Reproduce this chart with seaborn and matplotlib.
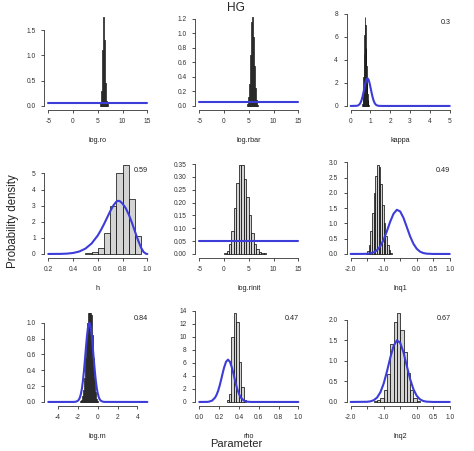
import numpy as np
import pandas as pd
import matplotlib
matplotlib.use("Agg")
import matplotlib.pyplot as plt
import seaborn as sns

# ---------------- data ----------------
params = ["log.ro", "log.rbar", "kappa", "h", "log.rinit", "lnq1", "log.m", "rho", "lnq2"]
annotations = ["", "", "0.3", "0.59", "", "0.49", "0.84", "0.47", "0.67"]

# posterior histograms: first bin edge, bin width, densities
ro_start, ro_width = 5.4, 0.2
ro_dens = [0.05, 0.3, 1.1, 1.75, 1.3, 0.45, 0.1, 0.03]
rbar_start, rbar_width = 4.6, 0.2
rbar_dens = [0.03, 0.12, 0.3, 0.7, 1.15, 1.22, 0.95, 0.55, 0.25, 0.08, 0.02]
kappa_start, kappa_width = 0.575, 0.025
kappa_dens = [0.2, 0.8, 2.5, 4.5, 6.2, 7.7, 7.0, 5.0, 3.5, 2.0, 1.0, 0.5, 0.2, 0.08]
h_start, h_width = 0.5, 0.05
h_dens = [0.03, 0.1, 0.35, 1.3, 3.0, 5.0, 5.5, 3.4, 1.1]
rinit_start, rinit_width = 0.0, 0.5
rinit_dens = [0.003, 0.01, 0.04, 0.09, 0.18, 0.275, 0.345, 0.345, 0.29, 0.22, 0.15,
              0.08, 0.04, 0.02, 0.008, 0.004, 0.002]
lnq1_start, lnq1_width = -1.55, 0.05
lnq1_dens = [0.03, 0.1, 0.3, 0.75, 1.35, 2.0, 2.55, 2.9, 2.85, 2.3, 1.6, 1.0, 0.6, 0.3, 0.12, 0.04]
logm_start, logm_width = -1.8, 0.1
logm_dens = [0.01, 0.03, 0.07, 0.15, 0.3, 0.55, 0.8, 1.0, 1.12, 1.12, 1.12, 1.1, 0.85,
             0.55, 0.3, 0.12, 0.04, 0.01]
rho_start, rho_width = 0.275, 0.025
rho_dens = [0.3, 1.2, 9.9, 13.6, 12.3, 6.2, 2.3, 0.3]
lnq2_start, lnq2_width = -1.3, 0.1
lnq2_dens = [0.02, 0.05, 0.1, 0.3, 0.68, 1.4, 1.95, 2.15, 1.75, 1.2, 0.7, 0.3, 0.1, 0.03]

# prior density curves
ro_px, ro_py = [-5, 15], [0.05, 0.05]
rbar_px, rbar_py = [-5, 15], [0.05, 0.05]
rinit_px, rinit_py = [-5, 15], [0.05, 0.05]
kappa_px = [0, 0.3, 0.35, 0.4, 0.45, 0.5, 0.55, 0.6, 0.65, 0.7, 0.75, 0.8, 0.85, 0.9, 0.95,
            1.0, 1.05, 1.1, 1.15, 1.2, 1.25, 1.3, 1.4, 1.6, 5.0]
kappa_py = [0, 0.013, 0.032, 0.073, 0.151, 0.288, 0.506, 0.815, 1.20, 1.62, 2.02, 2.30, 2.40,
            2.30, 2.02, 1.62, 1.20, 0.815, 0.506, 0.288, 0.151, 0.073, 0.013, 0, 0]
h_px = [0.2, 0.3, 0.35, 0.4, 0.45, 0.5, 0.55, 0.6, 0.625, 0.65, 0.675, 0.7, 0.725, 0.75, 0.765,
        0.78, 0.8, 0.825, 0.85, 0.875, 0.9, 0.925, 0.95, 0.97, 0.99, 1.0]
h_py = [0, 0.005, 0.02, 0.06, 0.15, 0.33, 0.65, 1.15, 1.48, 1.85, 2.25, 2.65, 3.0, 3.25, 3.3,
        3.27, 3.12, 2.85, 2.45, 1.95, 1.4, 0.85, 0.38, 0.12, 0.01, 0]
lnq1_px = [-2.0, -1.6, -1.5, -1.4, -1.3, -1.2, -1.1, -1.0, -0.9, -0.8, -0.7, -0.6, -0.5, -0.4,
           -0.3, -0.2, -0.1, 0.0, 0.1, 0.2, 0.3, 0.5, 1.0]
lnq1_py = [0, 0.002, 0.0065, 0.02, 0.053, 0.125, 0.259, 0.471, 0.755, 1.065, 1.32, 1.446, 1.39,
           1.18, 0.88, 0.577, 0.334, 0.17, 0.076, 0.03, 0.01, 0, 0]
logm_px = [-5, -2.4, -2.2, -2.0, -1.9, -1.8, -1.7, -1.6, -1.5, -1.4, -1.3, -1.2, -1.1, -1.0, -0.9,
           -0.85, -0.8, -0.7, -0.6, -0.5, -0.4, -0.3, -0.2, -0.1, 0.0, 0.1, 0.2, 0.3, 0.5, 0.7, 5]
logm_py = [0, 0.0005, 0.0034, 0.016, 0.032, 0.06, 0.105, 0.172, 0.267, 0.389, 0.531, 0.682, 0.823,
           0.932, 0.992, 1.0, 0.992, 0.932, 0.823, 0.682, 0.531, 0.389, 0.267, 0.172, 0.105, 0.06,
           0.032, 0.016, 0.0034, 0.0005, 0]
rho_px = [0, 0.08, 0.1, 0.13, 0.16, 0.175, 0.19, 0.205, 0.22, 0.235, 0.25, 0.27, 0.29, 0.31, 0.33,
          0.345, 0.36, 0.375, 0.39, 0.405, 0.42, 0.45, 0.48, 0.52, 1.0]
rho_py = [0, 0.01, 0.05, 0.21, 0.67, 1.1, 1.69, 2.46, 3.36, 4.34, 5.24, 6.16, 6.5, 6.16, 5.24,
          4.34, 3.36, 2.46, 1.69, 1.1, 0.67, 0.21, 0.05, 0, 0]
lnq2_px = [-2.0, -1.5, -1.4, -1.3, -1.2, -1.1, -1.0, -0.9, -0.8, -0.7, -0.6, -0.5, -0.4, -0.3,
           -0.2, -0.1, 0.0, 0.1, 0.2, 0.3, 0.5, 1.0]
lnq2_py = [0, 0.0045, 0.015, 0.043, 0.107, 0.235, 0.447, 0.743, 1.076, 1.359, 1.496, 1.436, 1.2,
           0.876, 0.557, 0.309, 0.149, 0.063, 0.023, 0.007, 0, 0]

# axis ticks
x_ticks_wide = [-5, 0, 5, 10, 15]
x_ticks_kappa = [0, 1, 2, 3, 4, 5]
x_ticks_h = [0.2, 0.4, 0.6, 0.8, 1.0]
x_ticks_lnq = [-2.0, -1.5, -1.0, -0.5, 0.0, 0.5, 1.0]
x_labels_lnq = ["-2.0", "", "-1.0", "", "0.0", "0.5", "1.0"]
x_ticks_logm = [-4, -2, 0, 2, 4]
x_ticks_rho = [0.0, 0.2, 0.4, 0.6, 0.8, 1.0]

hists = [(ro_start, ro_width, ro_dens), (rbar_start, rbar_width, rbar_dens),
         (kappa_start, kappa_width, kappa_dens), (h_start, h_width, h_dens),
         (rinit_start, rinit_width, rinit_dens), (lnq1_start, lnq1_width, lnq1_dens),
         (logm_start, logm_width, logm_dens), (rho_start, rho_width, rho_dens),
         (lnq2_start, lnq2_width, lnq2_dens)]
priors = [(ro_px, ro_py), (rbar_px, rbar_py), (kappa_px, kappa_py), (h_px, h_py),
          (rinit_px, rinit_py), (lnq1_px, lnq1_py), (logm_px, logm_py), (rho_px, rho_py),
          (lnq2_px, lnq2_py)]
xticks = [(x_ticks_wide, None, "{:g}"), (x_ticks_wide, None, "{:g}"), (x_ticks_kappa, None, "{:g}"),
          (x_ticks_h, None, "{:.1f}"), (x_ticks_wide, None, "{:g}"), (x_ticks_lnq, x_labels_lnq, None),
          (x_ticks_logm, None, "{:g}"), (x_ticks_rho, None, "{:.1f}"), (x_ticks_lnq, x_labels_lnq, None)]
yticks = [(np.arange(0, 1.51, 0.5), "{:.1f}"), (np.arange(0, 1.21, 0.2), "{:.1f}"),
          (np.arange(0, 8.1, 2), "{:.0f}"), (np.arange(0, 5.1, 1), "{:.0f}"),
          (np.arange(0, 0.351, 0.05), "{:.2f}"), (np.arange(0, 3.01, 0.5), "{:.1f}"),
          (np.arange(0, 1.01, 0.2), "{:.1f}"), (np.arange(0, 14.1, 2), "{:.0f}"),
          (np.arange(0, 2.01, 0.5), "{:.1f}")]

# ---------------- styling / layout ----------------
sns.set_style("ticks")
plt.rcParams["font.family"] = ["Liberation Sans", "DejaVu Sans"]
BLUE = "#3c3cd8"
AXC = "#333333"
W, H = 474, 451
col_left = [44.3, 195.3, 346.7]
row_bottom = [109.5, 257.5, 405.5]
ax_w, ax_h = 107, 95.7

fig = plt.figure(figsize=(W / 100, H / 100), dpi=100)

for i, name in enumerate(params):
    r, c = divmod(i, 3)
    ax = fig.add_axes([col_left[c] / W, 1 - row_bottom[r] / H, ax_w / W, ax_h / H])
    start, width, dens = hists[i]
    edges = start + width * np.arange(len(dens) + 1)
    hist_df = pd.DataFrame({"x": edges[:-1] + width / 2, "dens": dens})
    sns.histplot(data=hist_df, x="x", weights="dens", bins=list(edges), ax=ax,
                 color="#d3d3d3", edgecolor="black", linewidth=0.5, alpha=1)
    px, py = priors[i]
    prior_df = pd.DataFrame({"x": px, "y": py})
    sns.lineplot(data=prior_df, x="x", y="y", ax=ax, color=BLUE, linewidth=1.5)

    ymax = max(max(dens), max(py))
    ax.set_ylim(-0.04 * ymax, 1.04 * ymax)
    xlo, xhi = min(px), max(px)
    pad = 0.04 * (xhi - xlo)
    ax.set_xlim(xlo - pad, xhi + pad)

    xt, xl, xf = xticks[i]
    ax.set_xticks(xt)
    ax.set_xticklabels(xl if xl is not None else [xf.format(v) for v in xt])
    yt, yf = yticks[i]
    ax.set_yticks(yt)
    ax.set_yticklabels([yf.format(v) for v in yt])

    ax.spines[["top", "right"]].set_visible(False)
    ax.spines["left"].set_bounds(yt[0], yt[-1])
    ax.spines["bottom"].set_bounds(xt[0], xt[-1])
    for s in ("left", "bottom"):
        ax.spines[s].set_linewidth(0.6)
        ax.spines[s].set_color(AXC)
    ax.tick_params(length=2.2, width=0.6, pad=4, labelsize=4.8, colors=AXC)

    ax.set_ylabel("")
    ax.set_xlabel(name, fontsize=5.2, va="center", color="#222222")
    ax.xaxis.set_label_coords(0.5, -0.32)

    if annotations[i]:
        ax.text(0.97, 0.91, annotations[i], transform=ax.transAxes, ha="right",
                va="center", fontsize=5.2, color="#222222")

fig.text(236 / W, 1 - 8 / H, "HG", ha="center", va="center", fontsize=8.6)
fig.text(13 / W, 1 - 221 / H, "Probability density", ha="center", va="center",
         rotation=90, fontsize=8.3)
fig.text(236 / W, 1 - 444 / H, "Parameter", ha="center", va="center", fontsize=8)

fig.savefig("out.png", dpi=100)
